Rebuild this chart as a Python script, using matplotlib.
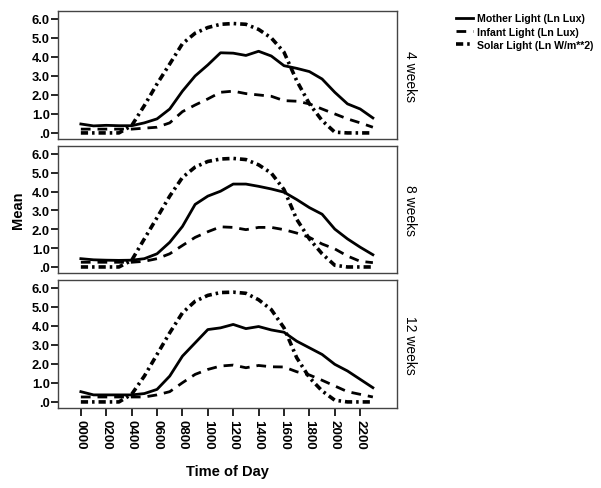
import matplotlib
matplotlib.use('Agg')
import matplotlib.pyplot as plt

plt.rcParams['font.family'] = ['Liberation Sans', 'DejaVu Sans']

# Hours of the day (0000 .. 2300)
hours = list(range(24))
tick_hours = list(range(0, 24, 2))
tick_labels = ['%02d00' % h for h in tick_hours]
panel_names = ['4 weeks', '8 weeks', '12 weeks']

# Mean values, one list per panel
mother = [
    [0.47, 0.37, 0.40, 0.38, 0.38, 0.53, 0.74, 1.26, 2.20, 3.00, 3.58, 4.22,
     4.20, 4.08, 4.30, 4.05, 3.54, 3.40, 3.23, 2.84, 2.14, 1.53, 1.26, 0.79],
    [0.44, 0.38, 0.36, 0.35, 0.36, 0.44, 0.70, 1.31, 2.15, 3.32, 3.76, 4.02,
     4.40, 4.40, 4.28, 4.14, 3.97, 3.58, 3.15, 2.80, 2.01, 1.49, 1.05, 0.65],
    [0.54, 0.37, 0.37, 0.37, 0.37, 0.44, 0.66, 1.36, 2.41, 3.11, 3.81, 3.90,
     4.08, 3.86, 3.97, 3.79, 3.67, 3.20, 2.85, 2.50, 1.98, 1.63, 1.19, 0.75],
]
infant = [
    [0.20, 0.20, 0.20, 0.20, 0.20, 0.25, 0.30, 0.53, 1.12, 1.47, 1.79, 2.14,
     2.20, 2.07, 2.00, 1.93, 1.70, 1.67, 1.53, 1.26, 1.00, 0.74, 0.53, 0.30],
    [0.25, 0.25, 0.25, 0.25, 0.25, 0.30, 0.44, 0.70, 1.14, 1.57, 1.87, 2.13,
     2.10, 1.98, 2.10, 2.10, 1.98, 1.80, 1.57, 1.22, 0.96, 0.58, 0.30, 0.23],
    [0.26, 0.26, 0.26, 0.26, 0.26, 0.26, 0.37, 0.54, 1.01, 1.45, 1.71, 1.89,
     1.94, 1.80, 1.92, 1.85, 1.84, 1.59, 1.42, 1.14, 0.84, 0.54, 0.40, 0.26],
]
solar = [
    [0.0, 0.0, 0.0, 0.0, 0.38, 1.44, 2.58, 3.63, 4.70, 5.25, 5.55, 5.72,
     5.76, 5.72, 5.45, 5.00, 4.25, 2.75, 1.53, 0.65, 0.04, 0.0, 0.0, 0.0],
    [0.0, 0.0, 0.0, 0.0, 0.35, 1.49, 2.62, 3.76, 4.75, 5.30, 5.60, 5.73,
     5.76, 5.70, 5.42, 4.98, 4.11, 2.53, 1.49, 0.70, 0.09, 0.0, 0.0, 0.0],
    [0.0, 0.0, 0.0, 0.0, 0.40, 1.36, 2.50, 3.64, 4.69, 5.30, 5.61, 5.76,
     5.78, 5.72, 5.38, 4.86, 3.90, 2.33, 1.28, 0.58, 0.09, 0.0, 0.0, 0.0],
]

fig = plt.figure(figsize=(6.01, 4.89), dpi=100)

left, width = 58 / 601, 339 / 601
panels = [(12, 140), (147, 274), (281, 409)]  # top, bottom in pixels

for i, (top, bottom) in enumerate(panels):
    ax = fig.add_axes([left, 1 - bottom / 489, width, (bottom - top) / 489])
    ax.plot(hours, mother[i], color='black', lw=2.0, solid_joinstyle='round',
            label='Mother Light (Ln Lux)')
    ax.plot(hours, infant[i], color='black', lw=2.0, linestyle=(0, (3.5, 2.5)),
            label='Infant Light (Ln Lux)')
    ax.plot(hours, solar[i], color='black', lw=2.6, linestyle=(0, (2.0, 1.1, 0.7, 1.1)),
            label='Solar Light (Ln W/m**2)')

    ax.set_xlim(-1.8, 24.9)
    ax.set_ylim(-0.32, 6.42)
    ax.set_yticks([0, 1, 2, 3, 4, 5, 6])
    ax.set_yticklabels(['.0', '1.0', '2.0', '3.0', '4.0', '5.0', '6.0'],
                       fontsize=9.3, fontweight='bold')
    ax.tick_params(axis='y', direction='out', length=5, width=1.2, pad=1)
    for s in ax.spines.values():
        s.set_color('#444444')
        s.set_linewidth(1.0)

    if i < 2:
        ax.set_xticks([])
    else:
        ax.set_xticks(tick_hours)
        ax.set_xticklabels(tick_labels, rotation=270, fontsize=9.6, fontweight='bold')
        ax.tick_params(axis='x', direction='out', length=6, width=1.2, pad=2)
        ax.set_xlabel('Time of Day', fontsize=10.5, fontweight='bold', labelpad=11)

    ax.text(1.017, 0.5, panel_names[i], transform=ax.transAxes, rotation=270,
            ha='left', va='center', fontsize=10)

    if i == 0:
        handles, labels = ax.get_legend_handles_labels()

fig.text(18 / 601, 1 - 210 / 489, 'Mean', rotation=90, ha='center', va='center',
         fontsize=10.5, fontweight='bold')

fig.legend(handles, labels, loc='upper left', bbox_to_anchor=(446 / 601, 1 - 5 / 489),
           frameon=False, handlelength=1.7, handletextpad=0.3, labelspacing=0.3,
           prop={'size': 7.6, 'weight': 'bold'})

fig.savefig('out.png', dpi=100)
plt.close(fig)
